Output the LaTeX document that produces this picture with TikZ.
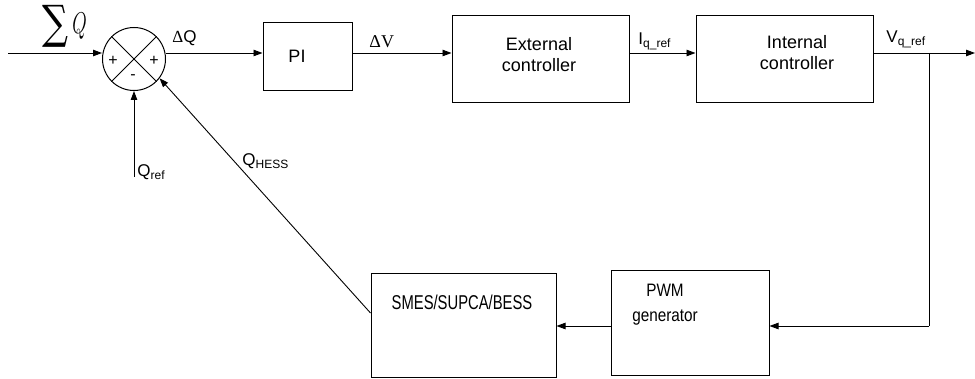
\documentclass[tikz,border=0pt]{standalone}
\usepackage{fontspec}
\setmainfont{Liberation Sans}
\newfontfamily\seriffont{Liberation Serif}
\newfontfamily\sumfont{DejaVu Serif}
\usepackage{graphicx}
\usetikzlibrary{arrows.meta,calc}

\begin{document}
\begin{tikzpicture}[x=1pt,y=-1pt,
  line width=0.9pt,
  tip/.style={-{Triangle[length=9pt,width=6.5pt]}},
  blk/.style={draw,rectangle,inner sep=0pt,line width=1pt},
  txt/.style={inner sep=0pt,font=\fontsize{18}{21}\selectfont,align=center},
  lbl/.style={inner sep=0pt,anchor=base west,font=\fontsize{17}{17}\selectfont},
  sgn/.style={inner sep=0pt,font=\fontsize{16}{16}\selectfont}]
\useasboundingbox (0,0) rectangle (975,379);

% summing junction
\node[draw,circle,minimum size=63pt,inner sep=0pt,line width=1pt] (sum) at (134,59) {};
\draw[line width=0.8pt] (sum.45) -- (sum.225) (sum.135) -- (sum.-45);
\node[sgn] (pl) at (113,61) {+};
\node[sgn] (pr) at (154,61) {+};
\node[sgn] (mn) at (133,77) {-};

% blocks
\node[blk,minimum width=89pt,minimum height=68pt] (pi) at (307.5,57) {};
\node[txt] (pit) at (297,56) {PI};
\node[blk,minimum width=177pt,minimum height=87pt] (ext) at (540.5,59.5) {};
\node[txt] (extt) at (539,55) {External\\controller};
\node[blk,minimum width=177pt,minimum height=87pt] (int) at (784.5,59.5) {};
\node[txt] (intt) at (797,53) {Internal\\controller};
\node[blk,minimum width=158pt,minimum height=105pt] (pwm) at (690,323.5) {};
\node[txt] (pwmt) at (665,305) {\scalebox{0.85}[1]{PWM}\\[4pt]\scalebox{0.85}[1]{generator}};
\node[blk,minimum width=185pt,minimum height=104pt] (smes) at (463.5,326) {};
\node[txt,font=\fontsize{20}{20}\selectfont] (smest) at (462,302.5) {\scalebox{0.74}[1]{SMES/SUPCA/BESS}};

% signal labels: the summation sign over the input line
\node[inner sep=0pt,anchor=north west] (sigma) at (42,5)
  {\resizebox*{26pt}{42pt}{\sumfont ∑}};
\node[inner sep=0pt,anchor=base west] (sigq) at (72,34) {\scalebox{0.9}[1.45]{\fontsize{20}{20}\selectfont$Q$}};
\node[lbl,font=\fontsize{17}{17}\selectfont] (dq) at (172,43) {{\seriffont Δ}Q};
\node[lbl,font=\fontsize{18}{18}\selectfont\seriffont] (dv) at (369,48) {ΔV};
\node[lbl] (iq) at (638,45) {I\raisebox{-3pt}{\fontsize{12}{12}\selectfont q\_ref}};
\node[lbl] (vq) at (886,43) {V\raisebox{-3pt}{\fontsize{12}{12}\selectfont q\_ref}};
\node[lbl] (qr) at (137,177) {Q\raisebox{-3pt}{\fontsize{12}{12}\selectfont ref}};
\node[lbl] (qh) at (242,166) {Q\raisebox{-3pt}{\fontsize{12}{12}\selectfont HESS}};

% connectors
\coordinate (in) at (8,53);
\coordinate (out) at (975,53);
\coordinate (br) at (929,53);
\coordinate (fb) at (929,326);
\coordinate (qin) at (134,177);
\draw[tip] (in) -- (in -| sum.west);
\draw[tip] (sum.east |- in) -- (in -| pi.west);
\draw[tip] (pi.east |- in) -- (in -| ext.west);
\draw[tip] (ext.east |- in) -- (in -| int.west);
\draw[tip] (int.east |- in) -- (out);
\draw (br) -- (fb);
\draw[tip] (fb) -- (fb -| pwm.east);
\draw[tip] (fb -| pwm.west) -- (fb -| smes.east);
\draw[tip] (qin) -- (sum.south);
\draw[tip] ($(smes.west)+(0,-13)$) -- (sum.-37);
\end{tikzpicture}
\end{document}
